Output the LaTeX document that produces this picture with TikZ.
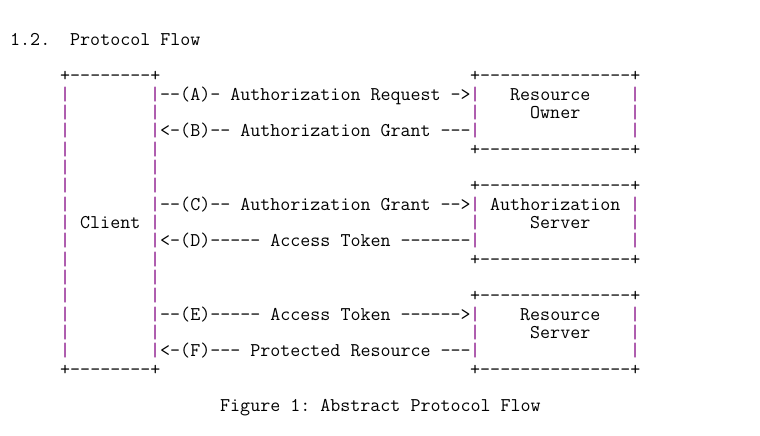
\documentclass[tikz,border=0pt]{standalone}
\usepackage{fontspec}
\definecolor{pipe}{RGB}{128,0,128}
\newcommand\pipebar{\textcolor{pipe}{|}}
\tikzset{ascii/.style={anchor=base west, inner sep=0pt, font=\ttfamily\fontsize{19.45}{18.33}\selectfont}}
\frenchspacing

\begin{document}
\begin{tikzpicture}[x=10pt,y=-18.333pt]
    \useasboundingbox (0,0) rectangle (76,23.782);
    \begin{scope}[shift={(1,2.46)}, every node/.style=ascii]
        \node (num) at (0,0) {1.2.};
        \node (title) at (6,0) {Protocol Flow};
        \node (ctop) at (5,2) {+--------+};
        \node (cbot) at (5,18) {+--------+};
        \foreach \r in {3,...,17} {
            \node (cl\r) at (5,\r) {\pipebar};
            \node (cr\r) at (14,\r) {\pipebar};
        }
        \node (client) at (7,10) {Client};
        \foreach \b in {2,8,14} {
            \node (top\b) at (46,\b) {+---------------+};
            \node (bot\b) at (46,\b+4) {+---------------+};
            \foreach \r in {1,2,3} {
                \node (bl\b\r) at (46,\b+\r) {\pipebar};
                \node (br\b\r) at (62,\b+\r) {\pipebar};
            }
        }
        \node (ownerA) at (50,3) {Resource};
        \node (ownerB) at (52,4) {Owner};
        \node (authA) at (48,9) {Authorization};
        \node (authB) at (52,10) {Server};
        \node (resA) at (51,15) {Resource};
        \node (resB) at (52,16) {Server};
        \node (msgA) at (15,3) {--(A)- Authorization Request ->};
        \node (msgB) at (15,5) {<-(B)-- Authorization Grant ---};
        \node (msgC) at (15,9) {--(C)-- Authorization Grant -->};
        \node (msgD) at (15,11) {<-(D)----- Access Token -------};
        \node (msgE) at (15,15) {--(E)----- Access Token ------>};
        \node (msgF) at (15,17) {<-(F)--- Protected Resource ---};
        \node (caption) at (21,20) {Figure 1: Abstract Protocol Flow};
    \end{scope}
\end{tikzpicture}
\end{document}
